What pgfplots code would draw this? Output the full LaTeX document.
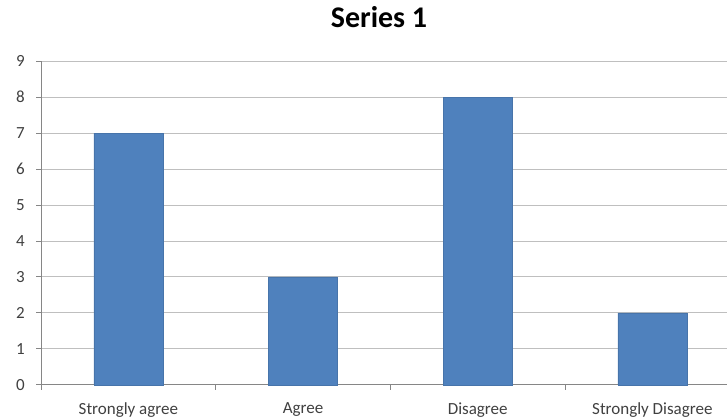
\documentclass[border=0pt]{standalone}
\usepackage{pgfplots}
\pgfplotsset{compat=1.18}
\usepackage{fontspec}
\setmainfont{Carlito}
\definecolor{barblue}{HTML}{4F81BD}
\definecolor{gridgray}{HTML}{BFBFBF}
\definecolor{axisgray}{HTML}{868686}
\begin{document}
\begin{tikzpicture}
\begin{axis}[
  at={(0pt,0pt)}, anchor=south west,
  scale only axis, width=698.7pt, height=324pt,
  xmin=-0.5, xmax=3.5, ymin=0, ymax=9,
  axis x line*=bottom, axis y line*=left,
  axis line style={axisgray, line width=1pt, -},
  ytick={0,...,9},
  ymajorgrids, grid style={gridgray, line width=1pt},
  xtick={-0.5,0.5,1.5,2.5,3.5}, xticklabels={},
  extra x ticks={0,1,2,3},
  extra x tick labels={Strongly agree, Agree, Disagree, Strongly Disagree},
  extra x tick style={major tick length=0pt, grid=none,
    xticklabel style={yshift=-14pt}},
  tick align=outside, major tick length=5pt,
  tick style={axisgray, line width=1pt},
  /pgf/number format/assume math mode=true,
  ticklabel style={font=\fontsize{17}{20}\selectfont, text=black!75},
  yticklabel style={inner sep=0pt, xshift=-11pt},
  title={Series 1},
  title style={at={(0.4838,1)}, anchor=base, yshift=28pt,
    font=\fontsize{30}{36}\selectfont\bfseries},
  clip=false,
]
\addplot[ybar, bar width=0.395, fill=barblue, draw=barblue!90!black]
  coordinates {(0,7) (1,3) (2,8) (3,2)};
\end{axis}
\pgfresetboundingbox
\useasboundingbox (-41pt,-34pt) rectangle (686pt,385pt);
\end{tikzpicture}
\end{document}
